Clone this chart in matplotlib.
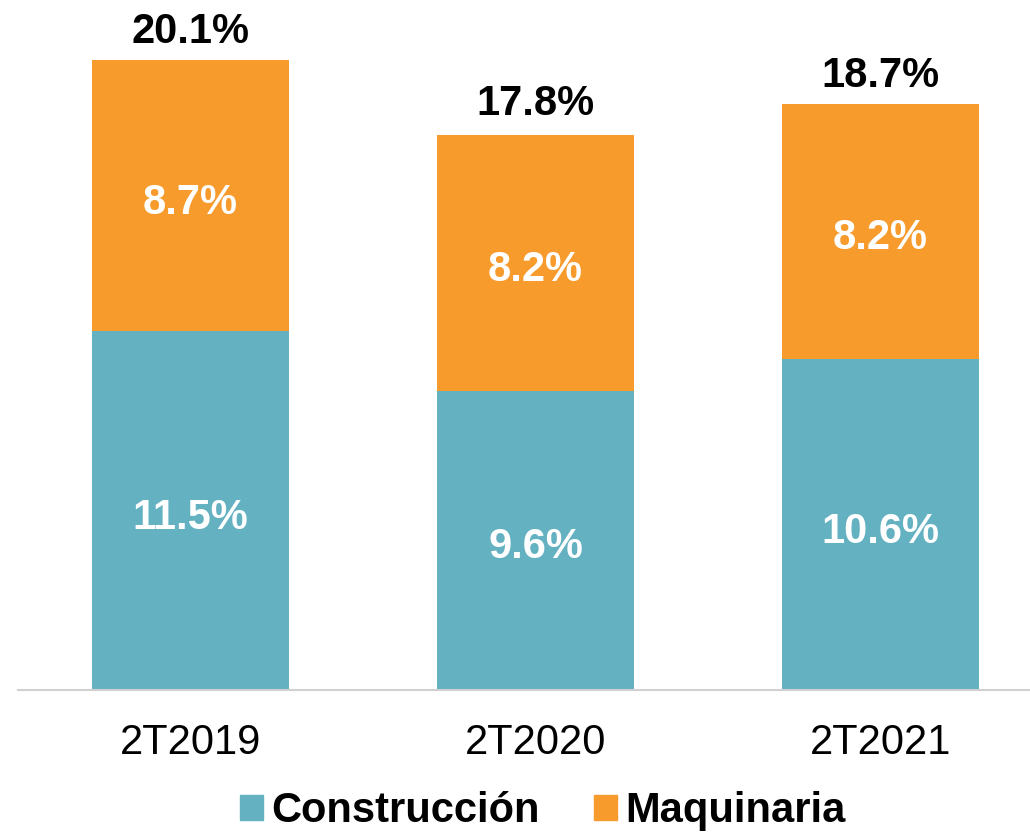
import numpy as np
import matplotlib.pyplot as plt
import matplotlib.patches as mpatches

plt.rcParams['font.family'] = ['Liberation Sans', 'DejaVu Sans']

periods = ['2T2019', '2T2020', '2T2021']
construccion = [11.5, 9.6, 10.6]
maquinaria = [8.7, 8.2, 8.2]
totals = [20.1, 17.8, 18.7]

C_CONS = '#64b1c1'
C_MAQ = '#f79b2c'

fig = plt.figure(figsize=(10.3, 8.33), dpi=100)
ax = fig.add_axes([18 / 1030, 143 / 833, 1 - 18 / 1030, (690 - 4) / 833])

x = np.arange(len(periods))
w = 0.571
ax.bar(x, construccion, width=w, color=C_CONS, zorder=2)
ax.bar(x, maquinaria, width=w, bottom=construccion, color=C_MAQ, zorder=2)

# label nudge (a few px) so the text sits like the original
nudge = 0.22
for i in range(len(periods)):
    ax.text(x[i], construccion[i] / 2 - nudge, f'{construccion[i]:.1f}%', ha='center',
            va='center', color='white', fontsize=30, fontweight='bold')
    ax.text(x[i], construccion[i] + maquinaria[i] / 2 - nudge, f'{maquinaria[i]:.1f}%',
            ha='center', va='center', color='white', fontsize=30, fontweight='bold')
    ax.text(x[i], totals[i] + 0.35, f'{totals[i]:.1f}%', ha='center', va='bottom',
            color='black', fontsize=30, fontweight='bold')

ax.set_xlim(-0.5, 2.433)
ax.set_ylim(0, 22)
for s in ['top', 'right', 'left']:
    ax.spines[s].set_visible(False)
ax.spines['bottom'].set_color('#d0d0d0')
ax.spines['bottom'].set_linewidth(1.5)
ax.set_yticks([])
ax.set_xticks(x)
ax.set_xticklabels(periods, fontsize=30)
ax.tick_params(axis='x', length=0, pad=24)

handles = [mpatches.Patch(color=C_CONS, label='Construcción'),
           mpatches.Patch(color=C_MAQ, label='Maquinaria')]
fig.legend(handles=handles, loc='center', bbox_to_anchor=(0.527, 0.026), ncol=2,
           frameon=False, prop={'size': 30, 'weight': 'bold'}, handlelength=0.55,
           handleheight=0.55, handletextpad=0.2, columnspacing=1.3)

fig.savefig('out.png', dpi=100)
